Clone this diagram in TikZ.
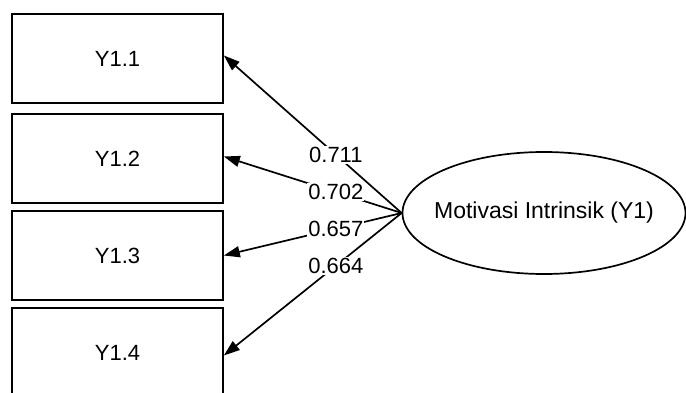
\documentclass[tikz,border=0pt]{standalone}
\usepackage{fontspec}
\setmainfont{Liberation Sans}
\usetikzlibrary{shapes.geometric,arrows.meta}
\begin{document}
\begin{tikzpicture}[x=1pt,y=-1pt,
  indicator/.style={draw, line width=1.7pt, minimum width=211pt, minimum height=89pt,
    inner sep=0pt, font=\fontsize{22}{26}\selectfont},
  latent/.style={draw, ellipse, line width=1.7pt, minimum width=283pt, minimum height=122pt,
    inner sep=0pt, font=\fontsize{23}{27}\selectfont},
  loading/.style={draw, line width=1.7pt, -{Triangle[length=16pt,width=11pt]}},
  coef/.style={fill=white, inner sep=1pt, font=\fontsize{22}{26}\selectfont}]
  \clip (0,0) rectangle (686,393);
  % measurement items
  \node[indicator] (y11) at (117.5,58.5) {Y1.1};
  \node[indicator] (y12) at (117.5,158.5) {Y1.2};
  \node[indicator] (y13) at (117.5,255.5) {Y1.3};
  \node[indicator] (y14) at (117.5,352.5) {Y1.4};
  % latent construct (fixed size, text kept from widening it)
  \node[latent] (mot) at (544,213) {\makebox[0pt]{Motivasi Intrinsik (Y1)}};
  % loadings
  \draw[loading] (mot.west) -- node[coef, pos=0.37] {0.711} ([yshift=3pt]y11.east);
  \draw[loading] (mot.west) -- node[coef, pos=0.37] {0.702} ([yshift=2pt]y12.east);
  \draw[loading] (mot.west) -- node[coef, pos=0.37] {0.657} (y13.east);
  \draw[loading] (mot.west) -- node[coef, pos=0.37] {0.664} ([yshift=-3pt]y14.east);
\end{tikzpicture}
\end{document}
